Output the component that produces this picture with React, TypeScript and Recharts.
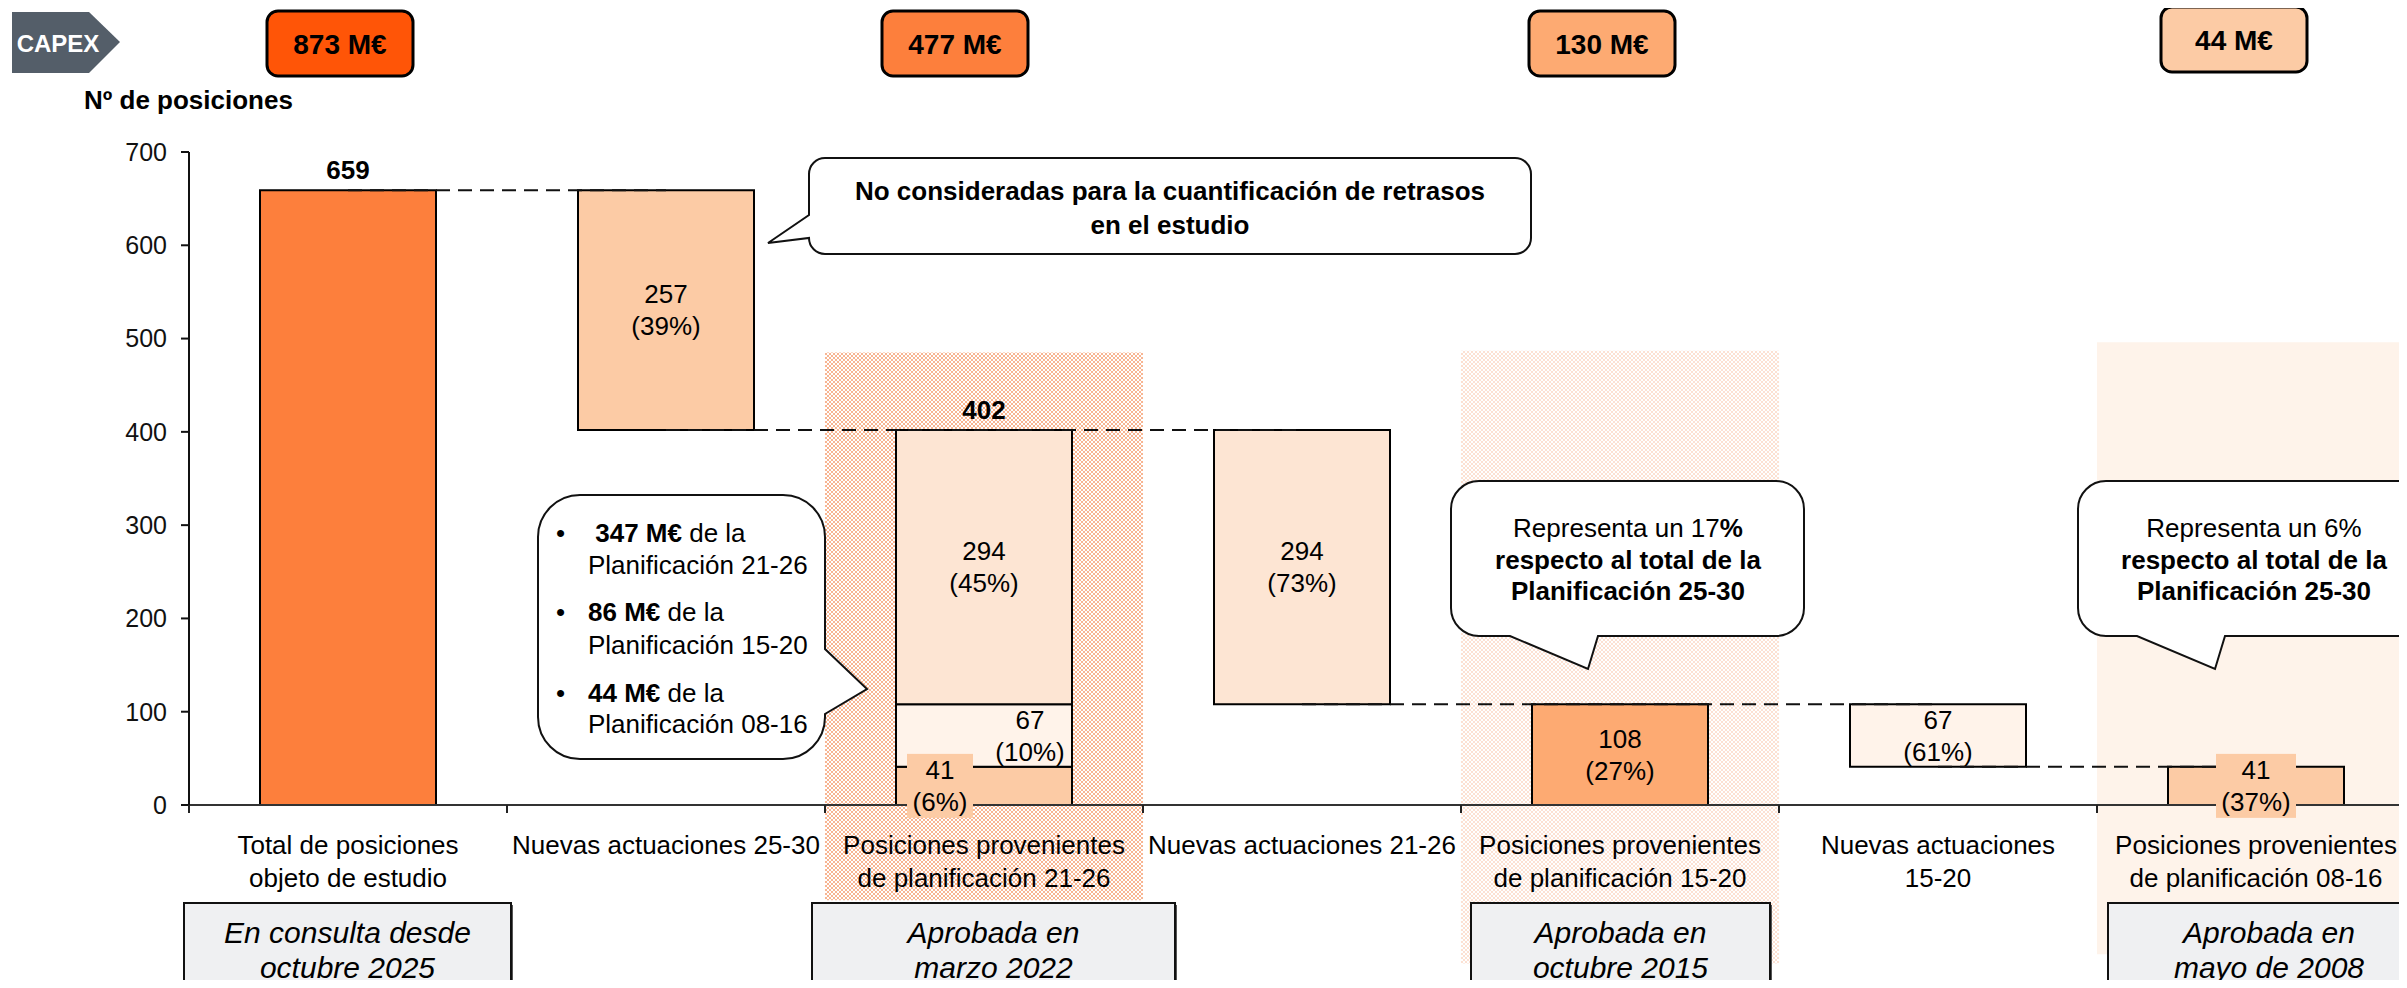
import { BarChart, Bar, XAxis, YAxis, Cell, LabelList, ReferenceArea, ReferenceLine } from 'recharts'

const categories = [
  'Total de posiciones\nobjeto de estudio',
  'Nuevas actuaciones 25-30',
  'Posiciones provenientes\nde planificación 21-26',
  'Nuevas actuaciones 21-26',
  'Posiciones provenientes\nde planificación 15-20',
  'Nuevas actuaciones\n15-20',
  'Posiciones provenientes\nde planificación 08-16',
]
// waterfall: invisible base + up to three visible segments per column
const baseValues = [0, 402, 0, 108, 0, 41, 0]
const lowerValues = [659, 257, 41, 294, 108, 67, 41]
const middleValues = [0, 0, 67, 0, 0, 0, 0]
const upperValues = [0, 0, 294, 0, 0, 0, 0]
const lowerShares = ['', '39%', '6%', '73%', '27%', '61%', '37%']
const middleShares = ['', '', '10%', '', '', '', '']
const upperShares = ['', '', '45%', '', '', '', '']
const totals: (number | null)[] = [659, null, 402, null, null, null, null]
const yTicks = [0, 100, 200, 300, 400, 500, 600, 700]
const connectorLevels = [659, 402, 108, 41]
const connectorSpans = [[0, 1], [1, 3], [3, 5], [5, 6]]
const capexLabels = ['873 M€', '477 M€', '130 M€', '44 M€']
const approvalLines = [
  ['En consulta desde', 'octubre 2025'],
  ['Aprobada en', 'marzo 2022'],
  ['Aprobada en', 'octubre 2015'],
  ['Aprobada en', 'mayo de 2008'],
]

const FONT = '"Liberation Sans", Arial, Helvetica, sans-serif'
const LOWER_FILLS = ['#fd7f3c', '#fccba5', '#fccba5', '#fde5d3', '#fdaa72', '#fff3ea', '#fccba5']
const MIDDLE_FILL = '#fff3ea'
const UPPER_FILL = '#fde5d3'
const CAPEX_FILLS = ['#ff5507', '#fd7f3c', '#fdaa72', '#fccba5']
const CAPEX_POS = [{ cx: 340, y: 11 }, { cx: 955, y: 11 }, { cx: 1602, y: 11 }, { cx: 2234, y: 7 }]
const APPROVAL_POS = [{ x: 184, w: 327 }, { x: 812, w: 363 }, { x: 1471, w: 299 }, { x: 2108, w: 322 }]
const LABEL_SHIFT: Record<string, number> = { lower2: -44, middle2: 46 }
const LABEL_PAD: Record<string, number> = { lower2: 66, lower6: 80 }
const PLOT_LEFT = 189
const BAND = 318

const data = categories.map((name, i) => ({
  name,
  base: baseValues[i],
  lower: lowerValues[i],
  middle: middleValues[i],
  upper: upperValues[i],
}))

const categoryIndex = (entry: any) => categories.indexOf(entry?.payload?.name)

function rectOf(p: any) {
  const vb = p.viewBox ?? p
  const x = Number(vb.x)
  const w = Number(vb.width)
  let y = Number(vb.y)
  let h = Number(vb.height)
  if (h < 0) { y += h; h = -h }
  return { x, y, w, h }
}

// isTop decides whether this segment is the highest one of its column (carries the bold total)
function segmentLabel(key: string, values: number[], shares: string[], fills: string[], isTop: (i: number) => boolean) {
  return (p: any) => {
    const { x, y, w, h } = rectOf(p)
    let i = typeof p.value === 'number' && p.value >= 0 ? p.value : -1
    if (i < 0) i = Math.floor((x + w / 2 - PLOT_LEFT) / BAND)
    const v = values[i]
    if (!v) return null
    const cx = x + w / 2 + (LABEL_SHIFT[key + i] ?? 0)
    const cy = y + h / 2
    const pad = LABEL_PAD[key + i]
    const total = isTop(i) ? totals[i] : null
    return (
      <g>
        {pad ? <rect x={cx - pad / 2} y={cy - 32} width={pad} height={64} fill={fills[i]} /> : null}
        {shares[i] ? (
          <text textAnchor="middle" dominantBaseline="central" fontSize={26} fontFamily={FONT} fill="#000">
            <tspan x={cx} y={cy - 16}>{v}</tspan>
            <tspan x={cx} y={cy + 16}>({shares[i]})</tspan>
          </text>
        ) : null}
        {total != null ? (
          <text x={x + w / 2} y={y - 20} textAnchor="middle" dominantBaseline="central" fontSize={26} fontWeight="bold" fontFamily={FONT} fill="#000">
            {total}
          </text>
        ) : null}
      </g>
    )
  }
}

function CategoryTick(props: any) {
  const { x, y, payload, index } = props
  const half = payload?.offset || BAND / 2
  const lines = String(payload.value).split('\n')
  return (
    <g>
      <line x1={x - half} x2={x - half} y1={y} y2={y + 8} stroke="#222" strokeWidth={2} />
      {index === categories.length - 1 ? <line x1={x + half} x2={x + half} y1={y} y2={y + 8} stroke="#222" strokeWidth={2} /> : null}
      <text textAnchor="middle" dominantBaseline="central" fontSize={26} fontFamily={FONT} fill="#000">
        {lines.map((l, k) => (
          <tspan key={k} x={x} y={y + 40 + k * 33}>{l}</tspan>
        ))}
      </text>
    </g>
  )
}

type Tail = { side: 'left' | 'right' | 'bottom'; a: number; b: number; tx: number; ty: number }

function bubblePath(x: number, y: number, w: number, h: number, r: number, t: Tail) {
  let d = `M${x + r},${y} H${x + w - r} A${r},${r} 0 0 1 ${x + w},${y + r} `
  if (t.side === 'right') d += `V${t.a} L${t.tx},${t.ty} L${x + w},${t.b} `
  d += `V${y + h - r} A${r},${r} 0 0 1 ${x + w - r},${y + h} `
  if (t.side === 'bottom') d += `H${t.a} L${t.tx},${t.ty} L${t.b},${y + h} `
  d += `H${x + r} A${r},${r} 0 0 1 ${x},${y + h - r} `
  if (t.side === 'left') d += `V${t.a} L${t.tx},${t.ty} L${x},${t.b} `
  d += `V${y + r} A${r},${r} 0 0 1 ${x + r},${y} Z`
  return d
}

function Overlay() {
  const txt = { fontFamily: FONT, fill: '#000' }
  return (
    <svg width={2407} height={988} style={{ position: 'absolute', left: 0, top: 0, pointerEvents: 'none' }}>
      {/* CAPEX tag */}
      <polygon points="12,12 89,12 120,42 89,73 12,73" fill="#545e69" />
      <text x={58} y={43} textAnchor="middle" dominantBaseline="central" fontSize={24} fontWeight="bold" fontFamily={FONT} fill="#fff">CAPEX</text>
      {capexLabels.map((l, i) => (
        <g key={l}>
          <rect x={CAPEX_POS[i].cx - 73} y={CAPEX_POS[i].y} width={146} height={65} rx={11} fill={CAPEX_FILLS[i]} stroke="#000" strokeWidth={3} />
          <text x={CAPEX_POS[i].cx} y={CAPEX_POS[i].y + 33} textAnchor="middle" dominantBaseline="central" fontSize={28} fontWeight="bold" {...txt}>{l}</text>
        </g>
      ))}
      <text x={84} y={100} dominantBaseline="central" fontSize={26} fontWeight="bold" {...txt}>Nº de posiciones</text>

      {/* callouts */}
      <path d={bubblePath(809, 158, 722, 96, 16, { side: 'left', a: 238, b: 215, tx: 768, ty: 243 })} fill="#fff" stroke="#111" strokeWidth={2} />
      <text textAnchor="middle" dominantBaseline="central" fontSize={26} fontWeight="bold" {...txt}>
        <tspan x={1170} y={191}>No consideradas para la cuantificación de retrasos</tspan>
        <tspan x={1170} y={225}>en el estudio</tspan>
      </text>

      <path d={bubblePath(538, 495, 287, 264, 42, { side: 'right', a: 649, b: 714, tx: 867, ty: 689 })} fill="#fff" stroke="#111" strokeWidth={2} />
      <g fontSize={26} {...txt} dominantBaseline="central">
        {[
          { y: 533, bold: ' 347 M€', rest: ' de la' },
          { y: 612, bold: '86 M€', rest: ' de la' },
          { y: 693, bold: '44 M€', rest: ' de la' },
        ].map((b) => (
          <g key={b.y}>
            <text x={556} y={b.y}>•</text>
            <text x={588} y={b.y} xmlSpace="preserve">
              <tspan fontWeight="bold">{b.bold}</tspan>
              <tspan>{b.rest}</tspan>
            </text>
          </g>
        ))}
        <text x={588} y={565}>Planificación 21-26</text>
        <text x={588} y={645}>Planificación 15-20</text>
        <text x={588} y={724}>Planificación 08-16</text>
      </g>

      <path d={bubblePath(1451, 481, 353, 155, 28, { side: 'bottom', a: 1598, b: 1510, tx: 1588, ty: 669 })} fill="#fff" stroke="#111" strokeWidth={2} />
      <text textAnchor="middle" dominantBaseline="central" fontSize={26} {...txt}>
        <tspan x={1628} y={528}>Representa un 17<tspan fontWeight="bold">%</tspan></tspan>
        <tspan x={1628} y={560} fontWeight="bold">respecto al total de la</tspan>
        <tspan x={1628} y={591} fontWeight="bold">Planificación 25-30</tspan>
      </text>

      <path d={bubblePath(2078, 481, 352, 155, 28, { side: 'bottom', a: 2225, b: 2137, tx: 2215, ty: 669 })} fill="#fff" stroke="#111" strokeWidth={2} />
      <text textAnchor="middle" dominantBaseline="central" fontSize={26} {...txt}>
        <tspan x={2254} y={528}>Representa un 6%</tspan>
        <tspan x={2254} y={560} fontWeight="bold">respecto al total de la</tspan>
        <tspan x={2254} y={591} fontWeight="bold">Planificación 25-30</tspan>
      </text>

      {/* approval status boxes */}
      {approvalLines.map((lines, i) => (
        <g key={i}>
          <rect x={APPROVAL_POS[i].x + 2} y={905} width={APPROVAL_POS[i].w} height={100} fill="#555" />
          <rect x={APPROVAL_POS[i].x} y={903} width={APPROVAL_POS[i].w} height={100} fill="#eff0f2" stroke="#111" strokeWidth={2} />
          <text textAnchor="middle" dominantBaseline="central" fontSize={30} fontStyle="italic" {...txt}>
            {lines.map((l, k) => (
              <tspan key={k} x={APPROVAL_POS[i].x + APPROVAL_POS[i].w / 2} y={932 + k * 35}>{l}</tspan>
            ))}
          </text>
        </g>
      ))}
    </svg>
  )
}

export default function App() {
  return (
    <div style={{ position: 'relative', width: 2407, height: 988, margin: -8, overflow: 'hidden', background: '#fff', fontFamily: FONT }}>
      <div style={{ position: 'absolute', left: 0, top: 0 }}>
        <BarChart width={2440} height={988} data={data} barSize={176} margin={{ top: 152, right: 25, bottom: 0, left: 0 }}>
          <defs>
            <pattern id="hatchDense" width={4} height={4} patternUnits="userSpaceOnUse">
              <rect width={4} height={4} fill="#fff" />
              <path d="M0,0 L4,4 M4,0 L0,4" stroke="#f8b592" strokeWidth={1} />
            </pattern>
            <pattern id="hatchLight" width={4} height={4} patternUnits="userSpaceOnUse">
              <rect width={4} height={4} fill="#fff" />
              <path d="M0,0 L4,4 M4,0 L0,4" stroke="#fce1d3" strokeWidth={1} />
            </pattern>
          </defs>
          <ReferenceArea x1={categories[2]} x2={categories[2]} y1={-102} y2={485} ifOverflow="visible" fill="url(#hatchDense)" fillOpacity={1} stroke="none" zIndex={-50} />
          <ReferenceArea x1={categories[4]} x2={categories[4]} y1={-170} y2={487} ifOverflow="visible" fill="url(#hatchLight)" fillOpacity={1} stroke="none" zIndex={-50} />
          <ReferenceArea x1={categories[6]} x2={categories[6]} y1={-160} y2={496} ifOverflow="visible" fill="#fef3ea" fillOpacity={1} stroke="none" zIndex={-50} />
          <XAxis
            dataKey="name"
            height={183}
            interval={0}
            tickLine={false}
            tickSize={0}
            tickMargin={0}
            axisLine={{ stroke: '#333', strokeWidth: 2 }}
            tick={(p: any) => <CategoryTick {...p} />}
          />
          <YAxis
            domain={[0, 700]}
            ticks={yTicks}
            interval={0}
            width={189}
            tickSize={8}
            tickMargin={14}
            allowDataOverflow
            axisLine={{ stroke: '#111', strokeWidth: 2 }}
            tickLine={{ stroke: '#111', strokeWidth: 2 }}
            tick={{ fontSize: 25, fill: '#111', fontFamily: FONT }}
          />
          <Bar dataKey="base" stackId="w" fill="transparent" stroke="none" isAnimationActive={false} />
          <Bar dataKey="lower" stackId="w" stroke="#000" strokeWidth={2} isAnimationActive={false}>
            {data.map((_, i) => <Cell key={i} fill={LOWER_FILLS[i]} />)}
            <LabelList
              valueAccessor={categoryIndex}
              content={segmentLabel('lower', lowerValues, lowerShares, LOWER_FILLS, (i) => !middleValues[i] && !upperValues[i])}
            />
          </Bar>
          <Bar dataKey="middle" stackId="w" fill={MIDDLE_FILL} stroke="#000" strokeWidth={2} isAnimationActive={false}>
            <LabelList
              valueAccessor={categoryIndex}
              content={segmentLabel('middle', middleValues, middleShares, LOWER_FILLS, (i) => !upperValues[i])}
            />
          </Bar>
          <Bar dataKey="upper" stackId="w" fill={UPPER_FILL} stroke="#000" strokeWidth={2} isAnimationActive={false}>
            <LabelList valueAccessor={categoryIndex} content={segmentLabel('upper', upperValues, upperShares, LOWER_FILLS, () => true)} />
          </Bar>
          {connectorSpans.map(([a, b], k) => (
            <ReferenceLine
              key={k}
              segment={[{ x: categories[a], y: connectorLevels[k] }, { x: categories[b], y: connectorLevels[k] }]}
              stroke="#111"
              strokeWidth={2}
              strokeDasharray="14 8"
            />
          ))}
        </BarChart>
      </div>
      <Overlay />
    </div>
  )
}
